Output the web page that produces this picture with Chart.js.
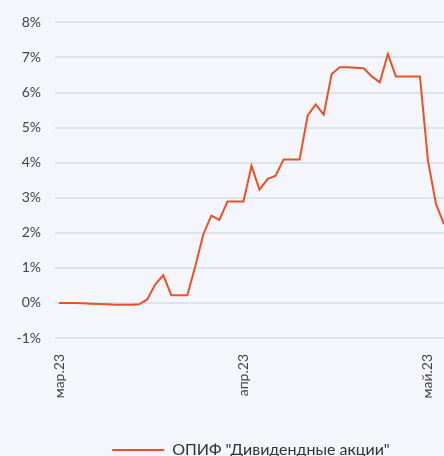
<!DOCTYPE html>
<html lang="ru">
<head>
  <meta charset="UTF-8">
  <title>ОПИФ Дивидендные акции</title>
  <style>
    body, html {
      margin: 0;
      padding: 0;
      background-color: #f5f6fb;
    }
    .chart-box {
      width: 444px;
      height: 456px;
    }
  </style>
</head>
<body>
  <div class="chart-box">
    <canvas id="fundChart"></canvas>
  </div>

  <script src="https://cdn.jsdelivr.net/npm/chart.js"></script>
  <script>
    // данные (в %), по торговым дням
    var seriesName = 'ОПИФ "Дивидендные акции"';
    var values = [
      0.0, 0.0, 0.0, -0.01, -0.02, -0.03, -0.04, -0.05, -0.05, -0.05,
      -0.04, 0.1, 0.53, 0.79, 0.22, 0.22, 0.22, 1.05, 1.96, 2.49,
      2.37, 2.89, 2.89, 2.89, 3.91, 3.23, 3.53, 3.63, 4.09, 4.09,
      4.09, 5.34, 5.66, 5.37, 6.53, 6.72, 6.72, 6.71, 6.69, 6.46,
      6.29, 7.10, 6.46, 6.46, 6.46, 6.46, 4.06, 2.82, 2.25
    ];
    var monthLabels = ['мар.23', 'апр.23', 'май.23'];
    var monthStarts = [0, 23, 46];
    var yTicks = [-1, 0, 1, 2, 3, 4, 5, 6, 7, 8];

    // подписи оси X: только начало месяца
    var labels = values.map(function () { return ''; });
    monthStarts.forEach(function (idx, i) { labels[idx] = monthLabels[i]; });

    var fontName = 'Lato, "Noto Sans", sans-serif';

    // легенда в оригинале сдвинута вправо от центра
    var legendShift = {
      id: 'legendShift',
      afterLayout: function (chart) {
        chart.legend.left += 29;
        chart.legend.right += 29;
      }
    };

    var ctx = document.getElementById('fundChart').getContext('2d');
    var fundChart = new Chart(ctx, {
      type: 'line',
      data: {
        labels: labels,
        datasets: [{
          label: seriesName,
          data: values,
          borderColor: '#ec5125',
          backgroundColor: '#ec5125',
          borderWidth: 2,
          pointRadius: 0,
          pointStyle: 'line',
          tension: 0,
          fill: false
        }]
      },
      options: {
        responsive: true,
        maintainAspectRatio: false,
        animation: false,
        layout: {
          padding: { top: 15, right: 0, bottom: -12, left: 0 } // легенда чуть обрезана внизу, как в оригинале
        },
        plugins: {
          tooltip: { enabled: false },
          legend: {
            position: 'bottom',
            labels: {
              usePointStyle: true,
              pointStyleWidth: 52,
              padding: 0,
              color: '#333',
              font: { family: fontName, size: 16 }
            }
          }
        },
        scales: {
          x: {
            offset: false,
            grid: { display: false },
            border: { display: false },
            ticks: {
              autoSkip: false,
              maxRotation: 90,
              minRotation: 90,
              padding: 8,
              color: '#444',
              font: { family: fontName, size: 14 }
            },
            afterFit: function (scale) {
              scale.height = 104;
              scale.paddingLeft = 0;
              scale.paddingRight = 0;
            }
          },
          y: {
            min: -1,
            max: 8,
            afterBuildTicks: function (scale) {
              scale.ticks = yTicks.map(function (v) { return { value: v }; });
            },
            grid: {
              color: '#dce5ec',
              lineWidth: 2,
              drawTicks: true,
              tickLength: 4
            },
            border: { display: false },
            ticks: {
              padding: 14,
              color: '#444',
              font: { family: fontName, size: 14 },
              callback: function (v) { return v + '%'; }
            },
            afterFit: function (scale) { scale.width = 59; }
          }
        }
      },
      plugins: [legendShift]
    });
  </script>
</body>
</html>
